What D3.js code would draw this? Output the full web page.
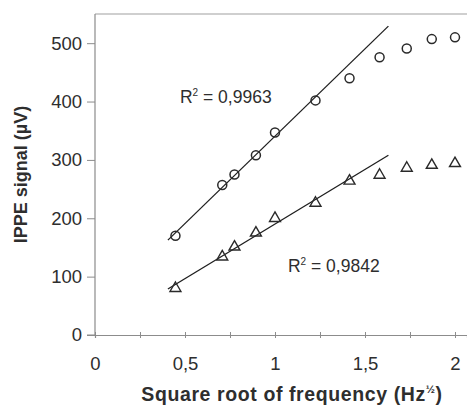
<!DOCTYPE html>
<html>
<head>
<meta charset="utf-8">
<title>IPPE signal</title>
<script src="https://d3js.org/d3.v7.min.js"></script>
<style>
  body { margin: 0; background: #fff; }
  svg { font-family: "Liberation Sans", Arial, sans-serif; }
</style>
</head>
<body>
<svg id="mainsvg" width="467" height="409"></svg>
<script>
// square root of frequency (Hz^1/2)
const sqrtFreq = [0.447, 0.707, 0.775, 0.894, 1.0, 1.225, 1.414, 1.581, 1.732, 1.871, 2.0];
// upper series (circles) and lower series (triangles), µV
const circleSignal = [170, 257, 275, 308, 347, 402, 440, 476, 491, 507, 510];
const triangleSignal = [80, 134, 151, 175, 200, 226, 264, 274, 286, 291, 294];
// points used for each linear trend line
const circleFitCount = 6;
const triangleFitCount = 7;
const fitExtent = [0.405, 1.63];
const r2Labels = ["0,9963", "0,9842"];

const xMinorTicks = [0, 0.25, 0.5, 0.75, 1, 1.25, 1.5, 1.75, 2];
const xLabels = {0: "0", 0.5: "0,5", 1: "1", 1.5: "1,5", 2: "2"};
const yTicks = [0, 100, 200, 300, 400, 500];

const svg = d3.select('#mainsvg');
const width = +svg.attr('width');
const height = +svg.attr('height');
const margin = { top: 14, right: 0, bottom: 74, left: 95 };

const x = d3.scaleLinear().domain([0, 2.0667]).range([margin.left, width - margin.right]);
const y = d3.scaleLinear().domain([0, 550]).range([height - margin.bottom, margin.top]);

const axisColor = '#8c8c8c';
const textColor = '#2e2e2e';

// top frame line
svg.append('line')
    .attr('x1', x(0)).attr('x2', x.range()[1])
    .attr('y1', y(550)).attr('y2', y(550))
    .attr('stroke', '#a0a0a0').attr('stroke-width', 1.2);

// x axis
const xAxis = d3.axisBottom(x)
    .tickValues(xMinorTicks)
    .tickSize(3)
    .tickPadding(19)
    .tickFormat(d => xLabels[d] !== undefined ? xLabels[d] : '');
const gx = svg.append('g')
    .attr('transform', `translate(0, ${y(0)})`)
    .call(xAxis);
gx.select('.domain').attr('stroke', axisColor).attr('stroke-width', 1.2);
gx.selectAll('.tick line').attr('y1', -3).attr('stroke', axisColor);
gx.selectAll('.tick text')
    .attr('font-size', 18.5).attr('fill', textColor)
    .attr('font-family', '"Liberation Sans", Arial, sans-serif');

// y axis
const yAxis = d3.axisLeft(y)
    .tickValues(yTicks)
    .tickSize(8)
    .tickPadding(5)
    .tickFormat(d3.format('d'));
const gy = svg.append('g')
    .attr('transform', `translate(${x(0)}, 0)`)
    .call(yAxis);
gy.select('.domain').attr('d', `M-8,${y(0)}H0V${y(550)}`)
    .attr('stroke', axisColor).attr('stroke-width', 1.2);
gy.selectAll('.tick line').attr('stroke', axisColor);
gy.selectAll('.tick text')
    .attr('font-size', 18.5).attr('fill', textColor)
    .attr('font-family', '"Liberation Sans", Arial, sans-serif');

// least squares fit
function fit(xs, ys) {
    const mx = d3.mean(xs), my = d3.mean(ys);
    const sxy = d3.sum(xs, (v, i) => (v - mx) * (ys[i] - my));
    const sxx = d3.sum(xs, v => (v - mx) * (v - mx));
    const slope = sxy / sxx;
    return { slope: slope, intercept: my - slope * mx };
}

const fits = [
    fit(sqrtFreq.slice(0, circleFitCount), circleSignal.slice(0, circleFitCount)),
    fit(sqrtFreq.slice(0, triangleFitCount), triangleSignal.slice(0, triangleFitCount))
];

const line = d3.line().x(d => x(d[0])).y(d => y(d[1]));
fits.forEach(f => {
    svg.append('path')
        .datum(fitExtent.map(v => [v, f.intercept + f.slope * v]))
        .attr('d', line)
        .attr('fill', 'none')
        .attr('stroke', '#1e1e1e')
        .attr('stroke-width', 1.3);
});

// circles
svg.append('g').selectAll('circle')
    .data(sqrtFreq.map((v, i) => [v, circleSignal[i]]))
    .join('circle')
    .attr('cx', d => x(d[0]))
    .attr('cy', d => y(d[1]))
    .attr('r', 4.5)
    .attr('fill', 'none')
    .attr('stroke', '#2a2a2a')
    .attr('stroke-width', 1.5);

// triangles
const tri = d3.symbol().type(d3.symbolTriangle).size(52);
svg.append('g').selectAll('path')
    .data(sqrtFreq.map((v, i) => [v, triangleSignal[i]]))
    .join('path')
    .attr('d', tri)
    .attr('transform', d => `translate(${x(d[0])}, ${y(d[1])})`)
    .attr('fill', 'none')
    .attr('stroke', '#2a2a2a')
    .attr('stroke-width', 1.4);

// R² annotations
const r2Pos = [[0.472, 397], [1.072, 108]];
r2Labels.forEach((lab, i) => {
    const t = svg.append('text')
        .attr('x', x(r2Pos[i][0]))
        .attr('y', y(r2Pos[i][1]))
        .attr('font-size', 17.5)
        .attr('fill', textColor);
    t.append('tspan').text('R');
    t.append('tspan').text('2').attr('font-size', 10).attr('dy', -7);
    t.append('tspan').text(' = ' + lab).attr('dy', 7);
});

// axis titles
const xt = svg.append('text')
    .attr('x', 292)
    .attr('y', 401)
    .attr('text-anchor', 'middle')
    .attr('font-size', 19.5)
    .attr('letter-spacing', 0.6)
    .attr('font-weight', 'bold')
    .attr('fill', textColor);
xt.append('tspan').text('Square root of frequency (Hz');
xt.append('tspan').text('½').attr('font-size', 11).attr('dy', -8);
xt.append('tspan').text(')').attr('dy', 8);

svg.append('text')
    .attr('transform', `translate(27, ${(y(0) + y(550)) / 2}) rotate(-90)`)
    .attr('text-anchor', 'middle')
    .attr('font-size', 18)
    .attr('font-weight', 'bold')
    .attr('fill', textColor)
    .text('IPPE signal (µV)');
</script>
</body>
</html>
